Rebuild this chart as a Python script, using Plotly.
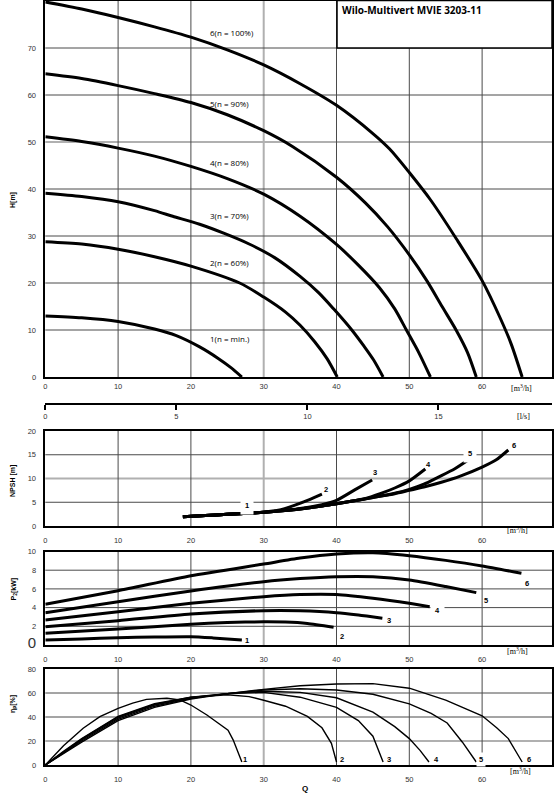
import plotly.graph_objects as go

# Q-H curves  (Q in m3/h, H in m)
q_h1 = [0, 5, 10, 15, 18, 21.2, 23.8, 25.5, 27]
h_1 = [13, 12.6, 11.8, 10.2, 8.8, 6.4, 3.9, 2, 0]
q_h2 = [0, 5, 10, 15, 20, 26.7, 30, 33, 35, 37, 38.7, 40.1]
h_2 = [28.8, 28.3, 27.2, 25.6, 23.6, 20, 17, 13.8, 11, 7.5, 3.9, 0]
q_h3 = [0, 5, 10, 15, 17.5, 21.2, 24.5, 28, 31.5, 35, 37.5, 39.6, 42.1, 43.8, 45.1, 46.4]
h_3 = [39.1, 38.4, 37.3, 35.4, 34.2, 32.5, 30.6, 28.3, 25.4, 21.4, 18, 14.5, 10, 6.5, 3.6, 0]
q_h4 = [0, 5, 10, 15, 20, 25, 30, 35, 40, 43, 45.9, 48, 49.6, 51.3, 52.9]
h_4 = [51.1, 50.1, 48.7, 47, 44.8, 42.2, 38.9, 34.2, 28.2, 23.8, 19, 14.5, 10, 5.2, 0]
q_h5 = [0, 5, 10, 15, 20, 25, 30, 34, 40, 44, 47, 50, 52.4, 54.5, 56.5, 58, 59.2]
h_5 = [64.5, 63.5, 62, 60.3, 58.4, 55.8, 52.4, 49, 42.5, 37, 32, 26, 20.5, 15, 9.8, 5.2, 0]
q_h6 = [0, 5, 10, 15, 20, 25, 30, 35, 40, 45, 47.3, 50, 53, 56.5, 60, 62.5, 64, 65.5]
h_6 = [79.8, 78.3, 76.5, 74.5, 72.3, 69.6, 66.4, 62.4, 57.8, 51.8, 48.5, 43.5, 37.5, 29.3, 20.5, 12.5, 7, 0]

# NPSH curves
q_n1 = [18.9, 22, 25, 27]
n_1 = [1.94, 2.2, 2.45, 2.6]
q_n2 = [18.9, 22, 25, 28, 30, 32, 34.3, 36.2, 38]
n_2 = [1.94, 2.2, 2.45, 2.7, 2.9, 3.3, 4.4, 5.5, 6.7]
q_n3 = [18.9, 22, 25, 28, 30, 32, 35, 38, 40, 42.5, 44.9]
n_3 = [1.94, 2.2, 2.45, 2.7, 2.9, 3.15, 3.7, 4.5, 5.4, 7.6, 9.7]
q_n4 = [18.9, 22, 25, 28, 30, 32, 35, 38, 40, 42, 44, 46, 48, 50, 52.2]
n_4 = [1.94, 2.2, 2.45, 2.7, 2.9, 3.15, 3.6, 4.2, 4.7, 5.2, 5.8, 6.8, 8.0, 9.5, 12]
q_n5 = [18.9, 22, 25, 28, 30, 32, 35, 38, 40, 42, 45, 48, 50, 52, 54, 56.2, 58.3]
n_5 = [1.94, 2.2, 2.45, 2.7, 2.9, 3.15, 3.6, 4.2, 4.7, 5.2, 6.0, 6.9, 7.7, 8.8, 10.3, 12, 14.1]
q_n6 = [18.9, 22, 25, 28, 30, 32, 35, 38, 40, 42, 45, 48, 50, 52, 54.4, 57, 60, 62, 63.6]
n_6 = [1.94, 2.2, 2.45, 2.7, 2.9, 3.15, 3.6, 4.2, 4.7, 5.2, 6.0, 6.8, 7.5, 8.2, 9.2, 10.5, 12.4, 14, 16]

# P2 curves (kW)
q_p1 = [0, 5, 10, 15, 20, 23, 27]
p_1 = [0.53, 0.65, 0.78, 0.86, 0.89, 0.76, 0.53]
q_p2 = [0, 10, 20, 25, 30, 33, 36, 39.6]
p_2 = [1.25, 1.71, 2.22, 2.4, 2.48, 2.45, 2.3, 1.9]
q_p3 = [0, 10, 20, 30, 35, 40, 43, 46.3]
p_3 = [1.96, 2.6, 3.32, 3.67, 3.66, 3.46, 3.2, 2.85]
q_p4 = [0, 10, 20, 30, 35, 40, 45, 50, 52.8]
p_4 = [2.67, 3.56, 4.46, 5.17, 5.4, 5.4, 5.0, 4.46, 4.1]
q_p5 = [0, 10, 20, 30, 35, 40, 45, 50, 55, 59.2]
p_5 = [3.46, 4.63, 5.78, 6.77, 7.1, 7.3, 7.3, 6.95, 6.25, 5.6]
q_p6 = [0, 10, 20, 30, 35, 40, 45, 50, 55, 60, 65.4]
p_6 = [4.35, 5.8, 7.41, 8.66, 9.3, 9.73, 9.87, 9.55, 9.05, 8.45, 7.67]

# efficiency curves (%)
q_e1 = [0, 2.5, 5.2, 7.5, 10, 12, 13.9, 16.7, 18.5, 20, 22.2, 24, 25.1, 25.8, 27]
e_1 = [0, 16, 30.6, 40.3, 47.2, 51.5, 54.7, 55.6, 54.2, 50, 41.7, 34, 29, 21, 2.5]
q_e2 = [0, 2.5, 5, 10, 15, 20, 25, 28, 30, 33, 36, 38, 39.3, 40]
e_2 = [0, 11.5, 22, 40.5, 51, 56.5, 58.5, 57, 54, 49, 40.5, 31, 18, 2.5]
q_e3 = [0, 2.5, 5, 10, 15, 20, 25, 30, 35, 40, 43, 45, 46.4]
e_3 = [0, 11, 21.5, 40, 50.5, 56.5, 59.5, 60.5, 56.5, 48, 37, 24, 2.5]
q_e4 = [0, 2.5, 5, 10, 15, 20, 25, 30, 35, 40, 45, 48, 50, 51.5, 52.7]
e_4 = [0, 10.5, 21, 39, 50, 56, 59.5, 61.5, 60.5, 56, 44, 32, 22, 12, 2.5]
q_e5 = [0, 2.5, 5, 10, 15, 20, 25, 30, 35, 40, 45, 50, 53, 55.2, 57.3, 59.2]
e_5 = [0, 10, 20, 38, 49, 55.5, 59.5, 62.5, 63.5, 62.5, 59, 51, 43, 35, 19, 2.5]
q_e6 = [0, 2.5, 5, 10, 15, 20, 25, 30, 35, 40, 45, 50, 55, 60, 62, 63.6, 65.5]
e_6 = [0, 9.5, 19, 37, 48, 55, 59.5, 63, 66, 67.5, 67.8, 64, 54, 41, 31, 22, 2.5]

# grid values per panel
q_grid = [10, 20, 40, 50, 60]
q_grid_light = [30]
h_grid = [10, 20, 30, 40, 60, 70]
h_grid_light = [50]
npsh_grid = [5, 15]
npsh_grid_light = [10]
p2_grid = [2, 4, 6, 8]
eta_grid = [40, 60]
eta_grid_light = [20]

h_labels = ["1(n = min.)", "2(n = 60%)", "3(n = 70%)", "4(n = 80%)", "5(n = 90%)", "6(n = 100%)"]
h_label_y = [8.1, 24.3, 34.3, 45.6, 58.1, 73.3]
curve_names = ["1", "2", "3", "4", "5", "6"]
npsh_label_q = [27.65, 38.6, 45.3, 52.7, 58.4, 64.4]
npsh_label_y = [4.3, 7.65, 11.2, 12.85, 15.3, 16.9]
p2_label_q = [27.7, 40.7, 47.2, 53.9, 60.6, 66.2]
p2_label_y = [0.53, 0.96, 2.57, 3.64, 4.81, 6.63]
eta_label_q = [27.4, 40.7, 47.2, 53.7, 59.8, 66.5]
eta_label_y = [4.75, 4.75, 4.75, 4.75, 4.75, 4.75]

QMAX = 69.6
XDOM = [45.3 / 555, 552 / 555]
H_DOM = [1 - 377 / 800, 1 - 1 / 800]
NPSH_DOM = [1 - 526 / 800, 1 - 431 / 800]
P2_DOM = [1 - 645 / 800, 1 - 551.5 / 800]
ETA_DOM = [1 - 765 / 800, 1 - 669 / 800]

fig = go.Figure()


def add_grid(dom, ymax, xv, yv, color, width):
    # grid lines in paper space, placed with the same linear mapping as the panel axes
    y0, y1 = dom
    for v in xv:
        xp = XDOM[0] + v / QMAX * (XDOM[1] - XDOM[0])
        fig.add_shape(type="line", xref="paper", yref="paper", x0=xp, x1=xp, y0=y0, y1=y1,
                      line=dict(color=color, width=width), layer="below")
    for v in yv:
        yp = y0 + v / ymax * (y1 - y0)
        fig.add_shape(type="line", xref="paper", yref="paper", x0=XDOM[0], x1=XDOM[1], y0=yp, y1=yp,
                      line=dict(color=color, width=width), layer="below")


dark, light = "#4a4a4a", "#b0b0b0"
add_grid(H_DOM, 80, q_grid_light, h_grid_light, light, 2)
add_grid(H_DOM, 80, q_grid, h_grid, dark, 1)
add_grid(NPSH_DOM, 20, q_grid_light, npsh_grid_light, light, 2)
add_grid(NPSH_DOM, 20, q_grid, npsh_grid, dark, 1)
add_grid(P2_DOM, 10, q_grid_light, [], light, 2)
add_grid(P2_DOM, 10, q_grid, p2_grid, dark, 1)
add_grid(ETA_DOM, 80, q_grid_light, eta_grid_light, light, 2)
add_grid(ETA_DOM, 80, q_grid, eta_grid, dark, 1)

h_curves = [(q_h1, h_1), (q_h2, h_2), (q_h3, h_3), (q_h4, h_4), (q_h5, h_5), (q_h6, h_6)]
n_curves = [(q_n1, n_1), (q_n2, n_2), (q_n3, n_3), (q_n4, n_4), (q_n5, n_5), (q_n6, n_6)]
p_curves = [(q_p1, p_1), (q_p2, p_2), (q_p3, p_3), (q_p4, p_4), (q_p5, p_5), (q_p6, p_6)]
e_curves = [(q_e1, e_1), (q_e2, e_2), (q_e3, e_3), (q_e4, e_4), (q_e5, e_5), (q_e6, e_6)]

for q, h in h_curves:
    fig.add_trace(go.Scatter(x=q, y=h, mode="lines", xaxis="x", yaxis="y",
                             line=dict(color="black", width=3, shape="spline", smoothing=0.8)))
for q, n in n_curves:
    fig.add_trace(go.Scatter(x=q, y=n, mode="lines", xaxis="x2", yaxis="y2",
                             line=dict(color="black", width=3, shape="spline", smoothing=0.6)))
for q, p in p_curves:
    fig.add_trace(go.Scatter(x=q, y=p, mode="lines", xaxis="x3", yaxis="y3",
                             line=dict(color="black", width=3, shape="spline", smoothing=0.6)))
for q, e in e_curves:
    fig.add_trace(go.Scatter(x=q, y=e, mode="lines", xaxis="x4", yaxis="y4",
                             line=dict(color="black", width=1.4)))

# invisible trace so the l/s axis gets its own (hidden) subplot
fig.add_trace(go.Scatter(x=[0], y=[0], mode="markers", xaxis="x5", yaxis="y5",
                         marker=dict(size=1, opacity=0), hoverinfo="skip"))

tick_font = dict(family="Liberation Sans", size=7.5, color="#333")
clear = "rgba(0,0,0,0)"


def x_axis(anchor, pad):
    return dict(domain=XDOM, range=[0, QMAX], dtick=10, anchor=anchor,
                showgrid=False, zeroline=False,
                showline=True, mirror=True, linecolor="black", linewidth=1.5,
                ticks="outside", ticklen=pad, tickcolor=clear,
                tickfont=tick_font, automargin=False)


def y_axis(anchor, dom, rng, dtick):
    return dict(domain=dom, range=rng, dtick=dtick, anchor=anchor,
                showgrid=False, zeroline=False,
                showline=True, mirror=True, linecolor="black", linewidth=1.5,
                ticks="outside", ticklen=6, tickcolor=clear,
                tickfont=tick_font, automargin=False)


p2_axis = y_axis("x3", P2_DOM, [0, 10], 2)
p2_axis["tickvals"] = [0, 2, 4, 6, 8, 10]
p2_axis["ticktext"] = ['<span style="font-size:15px">0</span>', "2", "4", "6", "8", "10"]

fig.update_layout(
    width=555, height=800,
    margin=dict(l=0, r=0, t=0, b=0),
    paper_bgcolor="white", plot_bgcolor="white",
    showlegend=False,
    font=dict(family="Liberation Sans", color="black"),
    xaxis=x_axis("y", 1),
    yaxis=y_axis("x", H_DOM, [0, 80], 10),
    xaxis2=x_axis("y2", 6),
    yaxis2=y_axis("x2", NPSH_DOM, [0, 20], 5),
    xaxis3=x_axis("y3", 6),
    yaxis3=p2_axis,
    xaxis4=x_axis("y4", 6),
    yaxis4=y_axis("x4", ETA_DOM, [0, 80], 20),
    xaxis5=dict(domain=XDOM, range=[0, QMAX / 3.6], anchor="y5", side="bottom",
                tickvals=[0, 5, 10, 15], showgrid=False, zeroline=False,
                showline=True, linecolor="black", linewidth=1.5, ticks="outside",
                ticklen=5, tickcolor="black", tickwidth=1.5, tickfont=tick_font,
                automargin=False),
    yaxis5=dict(domain=[1 - 403 / 800, 1 - 402 / 800], range=[0, 1], visible=False,
                anchor="x5"),
)

# title box
fig.add_shape(type="rect", xref="paper", yref="paper",
              x0=337 / 555, x1=XDOM[1], y0=1 - 48 / 800, y1=1 - 0.5 / 800,
              line=dict(color="black", width=1.5), fillcolor="white", layer="above")
fig.add_annotation(text="<b>Wilo-Multivert MVIE 3203-11</b>", xref="paper", yref="paper",
                   x=340 / 555, y=1 - 1 / 800, xanchor="left", yanchor="top", showarrow=False,
                   font=dict(family="Open Sans", size=10, color="black"))

for txt, yy in zip(h_labels, h_label_y):
    fig.add_annotation(text=txt, x=22.3, y=yy, xref="x", yref="y", xanchor="left",
                       showarrow=False, font=dict(family="Open Sans", size=8, color="black"))

small_bold = dict(family="Liberation Sans", size=7.5, color="black")
for i in range(6):
    fig.add_annotation(text="<b>" + curve_names[i] + "</b>", x=npsh_label_q[i], y=npsh_label_y[i],
                       xref="x2", yref="y2", showarrow=False, font=small_bold,
                       bgcolor="white" if curve_names[i] in ("1", "5") else None, borderpad=4)
    fig.add_annotation(text="<b>" + curve_names[i] + "</b>", x=p2_label_q[i], y=p2_label_y[i],
                       xref="x3", yref="y3", showarrow=False, font=small_bold,
                       bgcolor="white" if curve_names[i] == "4" else None, borderpad=4)
    fig.add_annotation(text="<b>" + curve_names[i] + "</b>", x=eta_label_q[i], y=eta_label_y[i],
                       xref="x4", yref="y4", showarrow=False, font=small_bold,
                       bgcolor="white" if curve_names[i] == "5" else None, borderpad=2)

# axis titles
axis_titles = [("<b>H[m]</b>", 190), ("<b>NPSH [m]</b>", 481),
               ("<b>P<sub>2</sub>[kW]</b>", 603), ("<b>η<sub>p</sub>[%]</b>", 715)]
for txt, ypx in axis_titles:
    fig.add_annotation(text=txt, xref="paper", yref="paper", x=7 / 555, y=1 - ypx / 800,
                       textangle=-90, showarrow=False,
                       font=dict(family="Liberation Sans", size=7, color="black"))

fig.add_annotation(text="<b>Q</b>", xref="paper", yref="paper", x=305 / 555, y=1 - 795 / 800,
                   showarrow=False, font=dict(family="Liberation Sans", size=8, color="black"))

unit_labels = [("[m<sup>3</sup>/h]", 534, 388), ("[l/s]", 532, 416), ("[m<sup>3</sup>/h]", 530, 537),
               ("[m<sup>3</sup>/h]", 530, 658), ("[m<sup>3</sup>/h]", 533, 778)]
for txt, xpx, ypx in unit_labels:
    fig.add_annotation(text=txt, xref="paper", yref="paper", x=xpx / 555, y=1 - ypx / 800,
                       showarrow=False, font=dict(family="Liberation Serif", size=8, color="black"))

fig.write_html("out.html", config={"displayModeBar": False},
               post_script="document.body.style.margin='0px';")
